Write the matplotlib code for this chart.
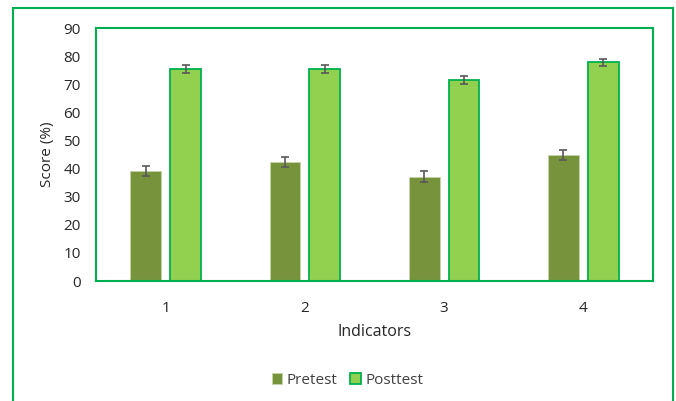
import numpy as np
import matplotlib
matplotlib.use("Agg")
import matplotlib.pyplot as plt
from matplotlib.patches import Rectangle

plt.rcParams['font.family'] = ['Open Sans', 'DejaVu Sans']

# data
indicators = ['1', '2', '3', '4']
pretest = [39.1, 42.4, 37.1, 44.9]
pretest_err = [1.8, 1.7, 1.9, 1.8]
posttest = [75.4, 75.4, 71.5, 77.8]
posttest_err = [1.3, 1.3, 1.4, 1.3]

green = '#00B050'
fig = plt.figure(figsize=(6.76, 4.01), dpi=100)
ax = fig.add_axes([0.142, 0.299, 0.824, 0.631])

x = np.arange(len(indicators))
w = 0.22
ax.bar(x - 0.143, pretest, w, color='#77933C', edgecolor='#C4D3A8', linewidth=0.6,
       label='Pretest', zorder=2)
ax.bar(x + 0.143, posttest, w, color='#92D050', edgecolor=green, linewidth=1.3,
       label='Posttest', zorder=2)
ax.errorbar(x - 0.143, pretest, yerr=pretest_err, fmt='none', ecolor='#595959',
            elinewidth=1.2, capsize=3, capthick=1.2, zorder=3)
ax.errorbar(x + 0.143, posttest, yerr=posttest_err, fmt='none', ecolor='#595959',
            elinewidth=1.2, capsize=3, capthick=1.2, zorder=3)

ax.set_xlim(-0.5, 3.5)
ax.set_ylim(0, 90)
ax.set_yticks(range(0, 91, 10))
ax.set_xticks(x)
ax.set_xticklabels(indicators)
ax.tick_params(length=0, labelsize=11, colors='#262626', pad=11)
ax.tick_params(axis='x', pad=14)
for s in ax.spines.values():
    s.set_color(green)
    s.set_linewidth(1.5)
ax.set_ylabel('Score (%)', fontsize=11, color='#262626', labelpad=6)
ax.set_xlabel('Indicators', fontsize=11.5, color='#262626', labelpad=6)

leg = fig.legend(loc='center', bbox_to_anchor=(0.514, 0.052), ncol=2, frameon=False,
                 fontsize=11, handlelength=0.7, handleheight=0.7, handletextpad=0.3,
                 columnspacing=0.8)
for t in leg.get_texts():
    t.set_color('#404040')

# outer chart frame
fig.add_artist(Rectangle((13 / 676, -0.05), 660 / 676, 1.03 - 8 / 401 + 0.02,
                         transform=fig.transFigure, fill=False, edgecolor=green,
                         linewidth=1.5, clip_on=False))

fig.savefig('out.png', dpi=100)
